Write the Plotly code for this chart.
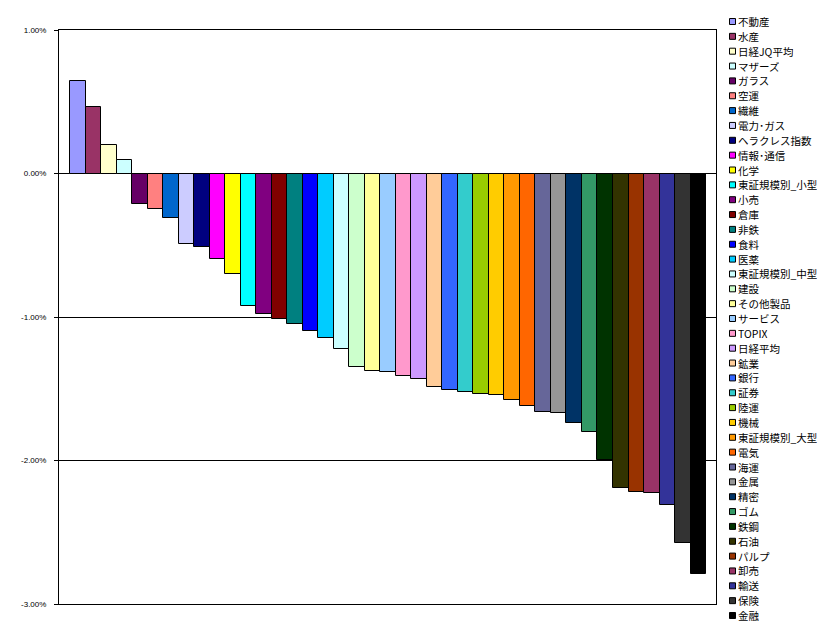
import plotly.graph_objects as go

categories = ["不動産", "水産", "日経JQ平均", "マザーズ", "ガラス", "空運", "繊維", "電力･ガス",
              "ヘラクレス指数", "情報･通信", "化学", "東証規模別_小型", "小売", "倉庫", "非鉄", "食料",
              "医薬", "東証規模別_中型", "建設", "その他製品", "サービス", "TOPIX", "日経平均", "鉱業",
              "銀行", "証券", "陸運", "機械", "東証規模別_大型", "電気", "海運", "金属", "精密", "ゴム",
              "鉄鋼", "石油", "パルプ", "卸売", "輸送", "保険", "金融"]

values = [0.643, 0.465, 0.20, 0.095, -0.214, -0.244, -0.307, -0.488, -0.511, -0.595, -0.697,
          -0.920, -0.976, -1.017, -1.050, -1.101, -1.143, -1.220, -1.345, -1.373, -1.380, -1.408,
          -1.429, -1.491, -1.512, -1.526, -1.538, -1.542, -1.575, -1.617, -1.664, -1.667, -1.738,
          -1.798, -1.996, -2.191, -2.216, -2.223, -2.307, -2.578, -2.790]

colors = ["#9999FF", "#993366", "#FFFFCC", "#CCFFFF", "#660066", "#FF8080", "#0066CC", "#CCCCFF",
          "#000080", "#FF00FF", "#FFFF00", "#00FFFF", "#800080", "#800000", "#008080", "#0000FF",
          "#00CCFF", "#CCFFFF", "#CCFFCC", "#FFFF99", "#99CCFF", "#FF99CC", "#CC99FF", "#FFCC99",
          "#3366FF", "#33CCCC", "#99CC00", "#FFCC00", "#FF9900", "#FF6600", "#666699", "#969696",
          "#003366", "#339966", "#003300", "#333300", "#993300", "#993366", "#333399", "#333333",
          "#000000"]

tick_vals = [1, 0, -1, -2, -3]
tick_text = ["1.00%", "0.00%", "-1.00%", "-2.00%", "-3.00%"]

# page body has an 8px margin, so the figure is drawn 8px smaller and offset
OFF = 8
W, H = 838 - OFF, 636 - OFF
L, R, T, B = 59 - OFF, 716 - OFF, 30 - OFF, 604 - OFF
n = len(categories)

fig = go.Figure()
fig.add_trace(go.Bar(
    x=list(range(n)), y=values, width=1.0,
    marker=dict(color=colors, line=dict(color="black", width=1)),
    hovertext=categories, showlegend=False,
))

# custom legend (right side)
pw, ph = R - L, B - T
def px_to_paper_x(p):
    return (p - OFF - L) / pw
def px_to_paper_y(p):
    return (B - (p - OFF)) / ph

y0, y1 = 21.5, 615.5
step = (y1 - y0) / (n - 1)
shapes = []
annotations = []
for i, (name, c) in enumerate(zip(categories, colors)):
    cy = y0 + i * step
    shapes.append(dict(type="rect", xref="paper", yref="paper",
                       x0=px_to_paper_x(729.5), x1=px_to_paper_x(735.5),
                       y0=px_to_paper_y(cy + 3), y1=px_to_paper_y(cy - 3),
                       fillcolor=c, line=dict(color="black", width=1)))
    annotations.append(dict(xref="paper", yref="paper", x=px_to_paper_x(737), y=px_to_paper_y(cy),
                            text=name, showarrow=False, xanchor="left", yanchor="middle",
                            borderpad=0, height=13, valign="middle",
                            font=dict(family="Noto Sans CJK JP", size=10.5, color="black")))

fig.update_layout(
    width=W, height=H,
    margin=dict(l=L, r=W - R, t=T, b=H - B, pad=0),
    paper_bgcolor="white", plot_bgcolor="white",
    bargap=0,
    shapes=shapes, annotations=annotations,
    xaxis=dict(range=[-1.21, n - 0.5 + 0.64], showticklabels=False, ticks="", showgrid=False,
               zeroline=False, showline=True, linecolor="black", linewidth=1, mirror=True),
    yaxis=dict(range=[-3, 1], tickvals=tick_vals, ticktext=tick_text, ticks="outside", ticklen=4,
               tickcolor="black", showgrid=True, gridcolor="black", gridwidth=1,
               zeroline=True, zerolinecolor="black", zerolinewidth=1,
               showline=True, linecolor="black", linewidth=1, mirror=True,
               tickfont=dict(family="Liberation Sans", size=8, color="black"), ticklabelstandoff=6),
)

fig.write_html("out.html")
